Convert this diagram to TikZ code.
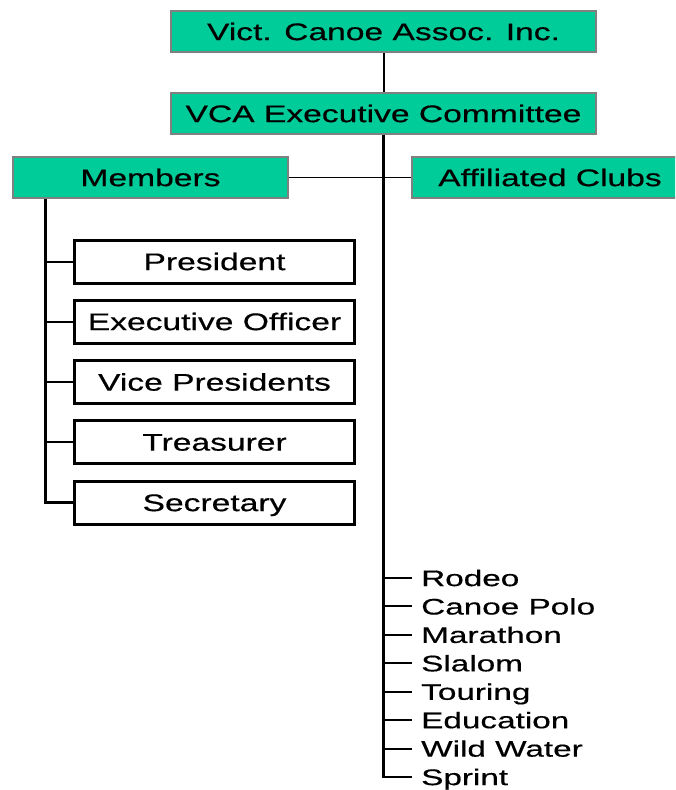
\documentclass[tikz,border=0pt]{standalone}
\usepackage{fontspec}
\setmainfont{Liberation Sans}
\newfontfamily\boxfont[FakeStretch=1.4,FakeBold=0.5]{Liberation Sans}
\newfontfamily\listfont[FakeStretch=1.48,FakeBold=0.5]{Liberation Sans}
\definecolor{vcagreen}{RGB}{0,204,153}
\definecolor{boxgray}{RGB}{128,128,128}
\begin{document}
\begin{tikzpicture}[x=1pt,y=-1pt,
  greenbox/.style={draw=boxgray, fill=vcagreen, line width=2pt, minimum height=41pt,
    inner sep=0pt, font=\boxfont\fontsize{24}{24}\selectfont, text height=17.2pt, text depth=0pt},
  whitebox/.style={draw=black, fill=white, line width=3pt, minimum width=280pt, minimum height=43pt,
    inner sep=0pt, font=\boxfont\fontsize{24}{24}\selectfont, text height=17.2pt, text depth=0pt},
  listitem/.style={anchor=west, inner sep=0pt, font=\listfont\fontsize{22.5}{22.5}\selectfont,
    text height=16.1pt, text depth=0pt},
  conn/.style={draw=black, line width=2pt},
  thickconn/.style={draw=black, line width=2.6pt},
  thinconn/.style={draw=black, line width=1.5pt}]
\useasboundingbox (0,0) rectangle (675,790);
\fill[white] (0,0) rectangle (675,790);
\begin{scope}
\clip (0,0) rectangle (675,790);

% green boxes
\node[greenbox, minimum width=425pt] (top) at (383.5,31.5) {Vict. Canoe Assoc. Inc.};
\node[greenbox, minimum width=425pt] (vca) at (383.5,113.5) {VCA Executive Committee};
\node[greenbox, minimum width=275pt] (members) at (150.5,177.5) {Members};
\node[greenbox, minimum width=276pt] (aff) at (550,177.5) {Affiliated Clubs};

% main connectors
\draw[conn] (top) -- (vca);
\draw[thinconn] (members) -- (aff);

% officer boxes
\node[whitebox] (pres) at (214.5,261.5) {President};
\node[whitebox] (exec) at (214.5,321.5) {Executive Officer};
\node[whitebox] (vp) at (214.5,382) {Vice Presidents};
\node[whitebox] (treas) at (214.5,442) {Treasurer};
\node[whitebox] (sec) at (214.5,502.5) {Secretary};

\coordinate (mstem) at (45.5,199);
\draw[thickconn] (mstem) |- (sec.west);
\foreach \n in {pres,exec,vp,treas}
  \draw[conn] (mstem |- \n.west) -- (\n.west);

% discipline list
\foreach \t/\n [count=\i from 0] in {Rodeo/rodeo, Canoe Polo/polo, Marathon/mara, Slalom/slalom,
    Touring/touring, Education/edu, Wild Water/wild, Sprint/sprint}
  \node[listitem] (\n) at (421,578+28.43*\i) {\t};

\draw[thickconn] (vca.south) |- ([xshift=-9pt]sprint.west);
\foreach \n in {rodeo,polo,mara,slalom,touring,edu,wild}
  \draw[conn] (vca.south |- \n.west) -- ([xshift=-9pt]\n.west);
\end{scope}
\end{tikzpicture}
\end{document}
